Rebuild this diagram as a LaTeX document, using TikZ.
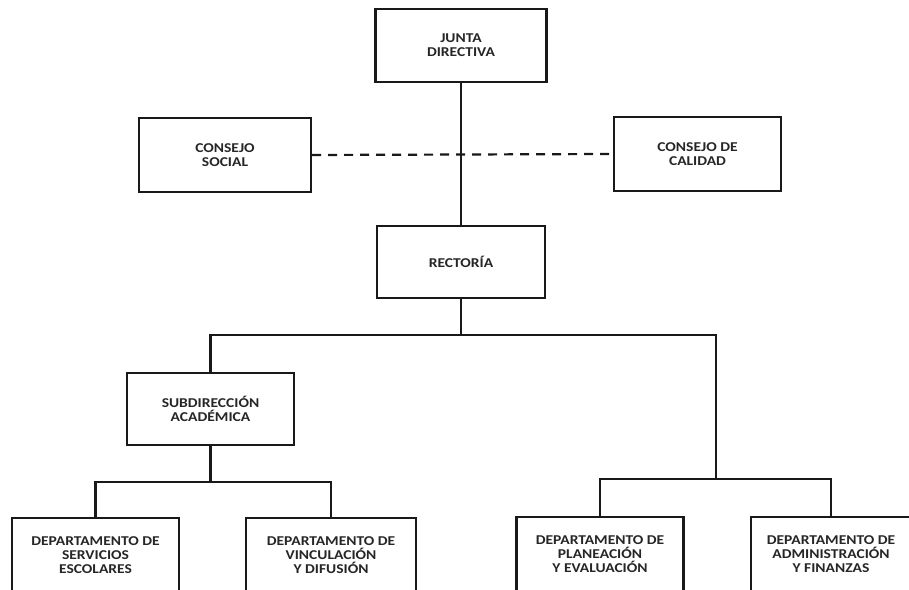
\documentclass[tikz,border=0pt]{standalone}
\usepackage{fontspec}
\setmainfont[FakeStretch=1.15]{Carlito}
\begin{document}
\begin{tikzpicture}[x=1pt,y=-1pt,
  box/.style={draw=black!90, line width=2.2pt, fill=white, rectangle, align=center,
    font=\fontsize{13.5}{13.8}\selectfont\bfseries, text=black!85, inner sep=0pt},
  link/.style={draw=black!90, line width=2.4pt},
  dashlink/.style={draw=black!90, line width=2.2pt, dash pattern=on 9pt off 7pt}]
\clip (0,0) rectangle (909,589);
\fill[white] (0,0) rectangle (909,589);
\node[box, minimum width=171, minimum height=73] (junta) at (461,45.5) {JUNTA\\DIRECTIVA};
\node[box, minimum width=172, minimum height=74] (social) at (225,155) {CONSEJO\\SOCIAL};
\node[box, minimum width=167, minimum height=74] (calidad) at (697.5,154) {CONSEJO DE\\CALIDAD};
\node[box, minimum width=168, minimum height=72] (rector) at (461,262) {RECTORÍA};
\node[box, minimum width=167, minimum height=72] (subdir) at (210.5,409) {SUBDIRECCIÓN\\ACADÉMICA};
\node[box, minimum width=167, minimum height=74] (d1) at (95.5,555) {DEPARTAMENTO DE\\SERVICIOS\\ESCOLARES};
\node[box, minimum width=170, minimum height=74] (d2) at (331,555) {DEPARTAMENTO DE\\VINCULACIÓN\\Y DIFUSIÓN};
\node[box, minimum width=167, minimum height=74] (d3) at (600,554) {DEPARTAMENTO DE\\PLANEACIÓN\\Y EVALUACIÓN};
\node[box, minimum width=160, minimum height=74] (d4) at (831,554) {DEPARTAMENTO DE\\ADMINISTRACIÓN\\Y FINANZAS};
\coordinate (r1) at (461,335);
\coordinate (r2) at (716,335);
\coordinate (r3) at (716,479);
\coordinate (s1) at (210.5,482);
\draw[link] (junta.south) -- (rector.north);
\draw[dashlink] (social.east) -- (calidad.west);
\draw[link] (rector.south) -- (r1);
\draw[link] (r1) -| (subdir.north);
\draw[link] (r1) -- (r2) -- (r3);
\draw[link] (r3) -| (d3.north);
\draw[link] (r3) -| (d4.north);
\draw[link] (subdir.south) -- (s1);
\draw[link] (s1) -| (d1.north);
\draw[link] (s1) -| (d2.north);
\end{tikzpicture}
\end{document}
